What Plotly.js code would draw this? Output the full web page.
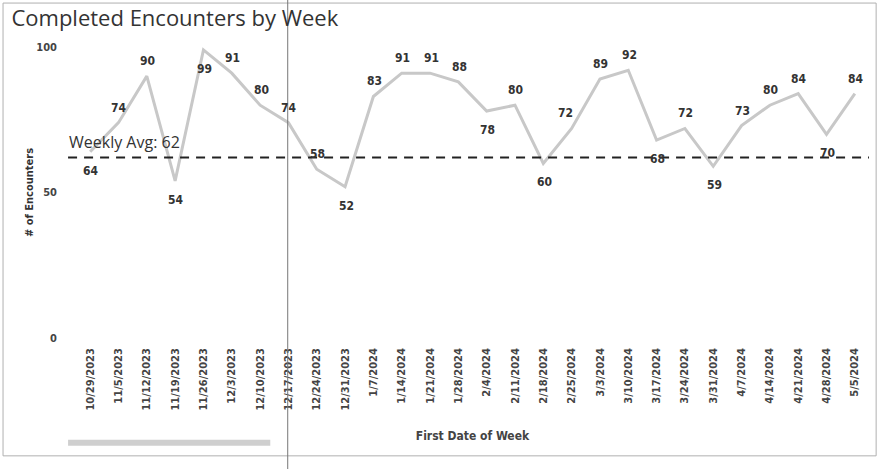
<!DOCTYPE html>
<html><head><meta charset="utf-8">
<script src="https://cdn.plot.ly/plotly-3.0.1.min.js"></script>
<style>html,body{margin:0;padding:0;background:#fff;}#chart{width:881px;height:469px;}</style>
</head><body><div id="chart"></div>
<script>
const weeks = ["10/29/2023","11/5/2023","11/12/2023","11/19/2023","11/26/2023","12/3/2023","12/10/2023","12/17/2023","12/24/2023","12/31/2023","1/7/2024","1/14/2024","1/21/2024","1/28/2024","2/4/2024","2/11/2024","2/18/2024","2/25/2024","3/3/2024","3/10/2024","3/17/2024","3/24/2024","3/31/2024","4/7/2024","4/14/2024","4/21/2024","4/28/2024","5/5/2024"];
const encounters = [64,74,90,54,99,91,80,74,58,52,83,91,91,88,78,80,60,72,89,92,68,72,59,73,80,84,70,84];
// label placement: 1 = above the point, -1 = below the point
const labelSide = [-1,1,1,-1,-1,1,1,1,1,-1,1,1,1,1,-1,1,-1,1,1,1,-1,1,-1,1,1,1,-1,1];
const weeklyAvg = 62;
const condensed = "'DejaVu Sans Condensed', 'Liberation Sans Narrow', 'DejaVu Sans', sans-serif";
const sans = "'Open Sans', 'DejaVu Sans', sans-serif";

const data = [{
  type: "scatter", mode: "lines",
  x: weeks, y: encounters,
  line: {color: "#c8c8c8", width: 3},
  cliponaxis: false, hoverinfo: "x+y"
}];

const pointLabels = weeks.map((w, i) => ({
  x: w, y: encounters[i], xref: "x", yref: "y", text: String(encounters[i]),
  showarrow: false, xanchor: "center", yanchor: "middle",
  yshift: labelSide[i] > 0 ? 15 : -19,
  xshift: (encounters[i] === 72 && i === 17) ? -6 : 1,
  font: {family: condensed, size: 12, color: "#333", weight: "bold"}
}));

const layout = {
  width: 881, height: 469,
  margin: {l: 76, r: 12, t: 47, b: 131},
  paper_bgcolor: "#fff", plot_bgcolor: "#fff",
  showlegend: false,
  title: {text: "Completed Encounters by Week", x: 0.013, xanchor: "left", y: 0.96, yanchor: "middle",
          font: {family: sans, size: 22, color: "#333"}},
  xaxis: {type: "category", range: [-0.5, 27.5], tickangle: -90, showgrid: false, zeroline: false,
          showline: false, ticks: "", ticklabelstandoff: 7,
          tickfont: {family: condensed, size: 11, color: "#444", weight: "bold"},
          title: {text: "First Date of Week", standoff: 22, font: {family: condensed, size: 12, color: "#444", weight: "bold"}}},
  yaxis: {range: [0, 100], tickvals: [0, 50, 100], showgrid: false, zeroline: false, showline: false,
          ticks: "", ticklabelstandoff: 18,
          tickfont: {family: condensed, size: 11, color: "#444", weight: "bold"},
          title: {text: "# of Encounters", standoff: 0, font: {family: condensed, size: 11, color: "#333", weight: "bold"}}},
  shapes: [
    {type: "rect", xref: "paper", yref: "paper", x0: -0.092, x1: 1.009, y0: -0.405, y1: 1.151,
     line: {color: "#b0b0b0", width: 1}, fillcolor: "rgba(0,0,0,0)"},
    {type: "line", xref: "paper", yref: "y", x0: -0.01, x1: 1.0, y0: weeklyAvg, y1: weeklyAvg,
     line: {color: "#222", width: 2, dash: "9px,7px"}},
    {type: "line", xref: "paper", yref: "paper", x0: -0.01, x1: 0.245, y0: -0.36, y1: -0.36,
     line: {color: "#cfcfcf", width: 6}},
    {type: "line", xref: "paper", yref: "paper", x0: 0.267, x1: 0.267, y0: -0.5, y1: 1.2,
     line: {color: "#777", width: 1}}
  ],
  annotations: [
    {text: "Weekly Avg: " + weeklyAvg, xref: "paper", yref: "y", x: -0.011, y: weeklyAvg, xanchor: "left", yanchor: "bottom",
     yshift: 3, showarrow: false, font: {family: sans, size: 16, color: "#333"}}
  ].concat(pointLabels)
};
Plotly.newPlot("chart", data, layout, {displayModeBar: false, staticPlot: true});
</script></body></html>
